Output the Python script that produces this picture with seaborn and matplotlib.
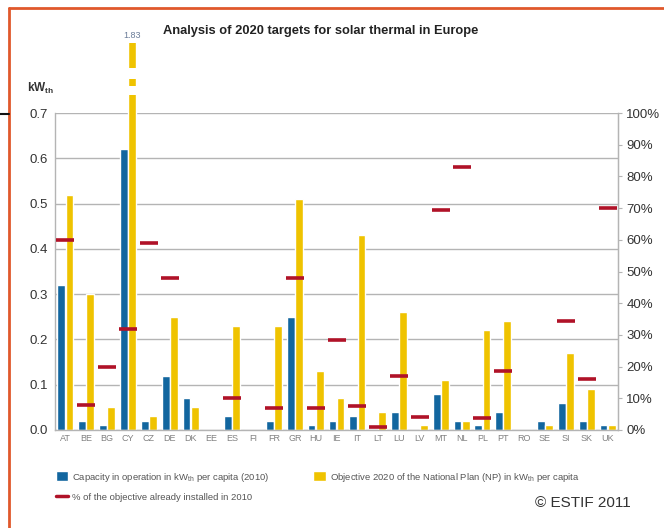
import numpy as np
import pandas as pd
import matplotlib
matplotlib.use("Agg")
import matplotlib.pyplot as plt
from matplotlib.patches import Patch, Rectangle
from matplotlib.lines import Line2D
import seaborn as sns

countries = ["AT", "BE", "BG", "CY", "CZ", "DE", "DK", "EE", "ES", "FI", "FR", "GR", "HU",
             "IE", "IT", "LT", "LU", "LV", "MT", "NL", "PL", "PT", "RO", "SE", "SI", "SK", "UK"]
capacity_2010 = [0.32, 0.02, 0.01, 0.62, 0.02, 0.12, 0.07, 0.0, 0.03, 0.0, 0.02, 0.25, 0.01,
                 0.02, 0.03, 0.0, 0.04, 0.0, 0.08, 0.02, 0.01, 0.04, 0.0, 0.02, 0.06, 0.02, 0.01]
objective_2020 = [0.52, 0.30, 0.05, 1.83, 0.03, 0.25, 0.05, 0.0, 0.23, 0.0, 0.23, 0.51, 0.13,
                  0.07, 0.43, 0.04, 0.26, 0.01, 0.11, 0.02, 0.22, 0.24, 0.0, 0.01, 0.17, 0.09, 0.01]
share_installed = [60, 8, 20, 32, 59, 48, np.nan, np.nan, 10, np.nan, 7, 48, 7,
                   28.5, 7.5, 1, 17, 4, 69.5, 83, 3.7, 18.5, np.nan, np.nan, 34.5, 16, 70]
kw_ticks = [0.0, 0.1, 0.2, 0.3, 0.4, 0.5, 0.6, 0.7]
pct_ticks = [0, 10, 20, 30, 40, 50, 60, 70, 80, 90, 100]

series_capacity = "Capacity in operation in kW$_\\mathregular{th}$ per capita (2010)"
series_objective = "Objective 2020 of the National Plan (NP) in kW$_\\mathregular{th}$ per capita"
series_share = "% of the objective already installed in 2010"

BLUE = "#12669f"
YELLOW = "#efc300"
RED = "#b01228"
GRID = "#b4b4b4"
BORDER = "#e0582c"

sns.set_style("white")
plt.rcParams["font.family"] = ["Liberation Sans", "DejaVu Sans"]
plt.rcParams["mathtext.fontset"] = "custom"
plt.rcParams["mathtext.rm"] = "Liberation Sans"

df = pd.DataFrame({
    "country": countries * 2,
    "value": capacity_2010 + objective_2020,
    "series": [series_capacity] * len(countries) + [series_objective] * len(countries),
})

W, H = 664, 528
fig = plt.figure(figsize=(W / 100, H / 100), dpi=100)
ax = fig.add_axes([55 / W, 1 - 430 / H, 563 / W, 317 / H])

sns.barplot(data=df, x="country", y="value", hue="series", order=countries,
            hue_order=[series_capacity, series_objective],
            palette=[BLUE, YELLOW], saturation=1, width=0.78, gap=0.04,
            legend=False, ax=ax)

ax.set_xlim(-0.5, len(countries) - 0.5)
ax.set_ylim(0, 0.7)
ax.set_xlabel("")
ax.set_ylabel("")
ax.set_yticks(kw_ticks)
ax.set_yticklabels([f"{v:.1f}" for v in kw_ticks])
ax.tick_params(axis="y", length=0, pad=5, labelsize=9.5, labelcolor="#333333")
ax.tick_params(axis="x", which="major", length=0, pad=3, labelsize=6.5, labelcolor="#808080")
ax.set_xticks(np.arange(len(countries)) + 0.5, minor=True)
ax.tick_params(axis="x", which="minor", length=3, width=0.8, color="#b0b0b0", direction="out")
ax.grid(axis="y", color=GRID, linewidth=1)
ax.set_axisbelow(True)
for side in ["left", "right", "bottom"]:
    ax.spines[side].set_color(GRID)
    ax.spines[side].set_linewidth(1)
ax.spines["top"].set_visible(False)

# Cyprus target runs off the scale: clip it above the frame and mark the break
cy = countries.index("CY")
for p in ax.patches:
    if abs(p.get_height() - objective_2020[cy]) < 1e-9:
        clip = Rectangle((0, 0), 1, 1.221, transform=ax.transAxes)
        p.set_clip_path(clip)
        x0, w = p.get_x(), p.get_width()
        for y0, y1 in [(1.107, 1.142), (1.057, 1.085)]:
            ax.add_patch(Rectangle((x0 - 0.05, y0), w + 0.1, y1 - y0,
                                   transform=ax.get_xaxis_transform(),
                                   facecolor="white", edgecolor="none",
                                   clip_on=False, zorder=5))
        ax.text(x0 + w / 2, 1.246, f"{objective_2020[cy]:.2f}",
                transform=ax.get_xaxis_transform(), ha="center", va="center",
                fontsize=6.5, color="#6a7c98")

ax2 = ax.twinx()
sns.scatterplot(x=np.arange(len(countries)), y=share_installed, marker="_", s=150,
                linewidth=2.6, color=RED, ax=ax2, zorder=6, legend=False)
ax2.set_ylim(0, 100)
ax2.set_yticks(pct_ticks)
ax2.set_yticklabels([f"{v}%" for v in pct_ticks])
ax2.tick_params(axis="y", length=3, width=0.8, color=GRID, pad=3,
                labelsize=9.5, labelcolor="#333333")
for side in ["left", "top", "bottom"]:
    ax2.spines[side].set_visible(False)
ax2.spines["right"].set_color(GRID)
ax2.set_ylabel("")

fig.text(27 / W, 1 - 88 / H, "kW$_\\mathregular{th}$", ha="left", va="center",
         fontsize=8.5, fontweight="bold", color="#333333")
fig.text(163 / W, 1 - 31 / H, "Analysis of 2020 targets for solar thermal in Europe",
         ha="left", va="center", fontsize=9.3, fontweight="bold", color="#222222")

handles = [Patch(facecolor=BLUE), Line2D([], [], color=RED, lw=2.5), Patch(facecolor=YELLOW)]
labels = [series_capacity, series_share, series_objective]
fig.legend(handles, labels, ncol=2, loc="upper left", bbox_to_anchor=(47 / W, 1 - 462 / H),
           frameon=False, fontsize=6.8, handlelength=1.3, handleheight=1.3,
           handletextpad=0.5, columnspacing=4.6, labelspacing=0.9, labelcolor="#555555")

fig.text(631 / W, 1 - 503 / H, "© ESTIF 2011", ha="right", va="center",
         fontsize=11, color="#333333")

# page frame
fig.add_artist(Line2D([9 / W, 1], [1 - 8 / H] * 2, color=BORDER, lw=2,
                      transform=fig.transFigure))
fig.add_artist(Line2D([9 / W] * 2, [0, 1 - 8 / H], color=BORDER, lw=2,
                      transform=fig.transFigure))
fig.add_artist(Line2D([0, 9 / W], [1 - 114 / H] * 2, color="#111111", lw=1.5,
                      transform=fig.transFigure))

fig.savefig("out.png", dpi=100, facecolor="white")
